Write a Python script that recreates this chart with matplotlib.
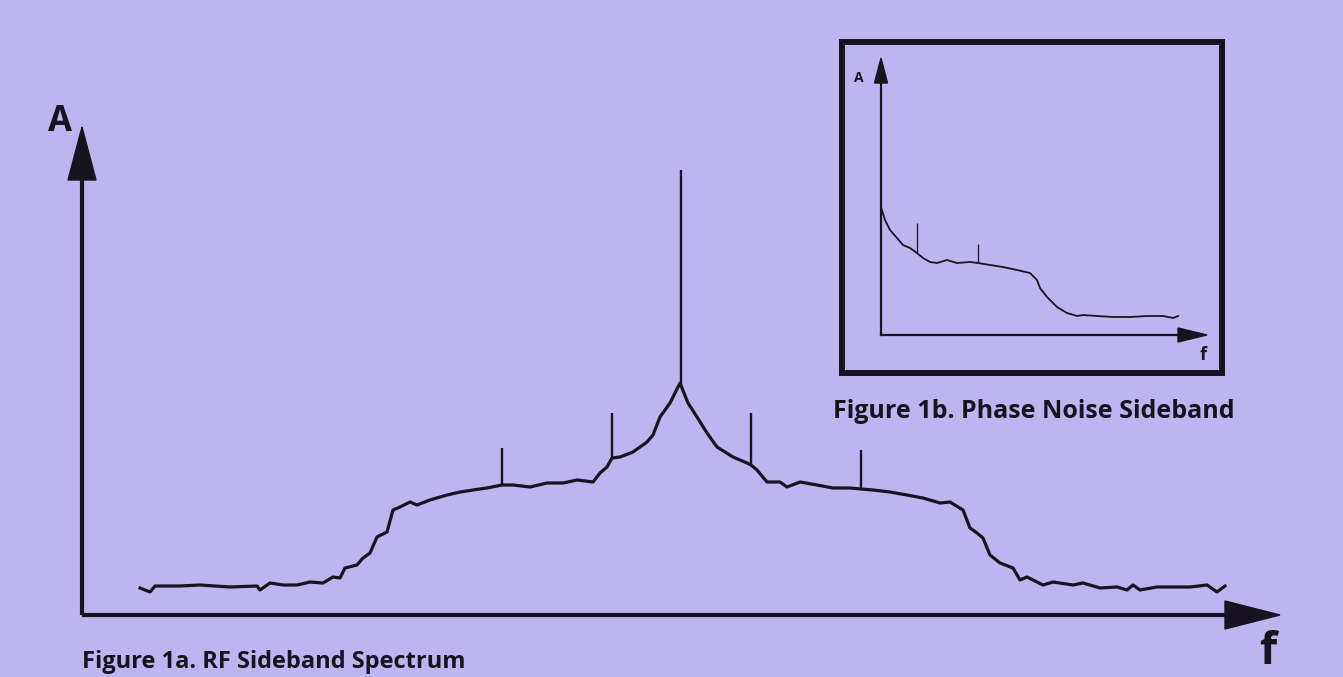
import matplotlib
matplotlib.use("Agg")
import matplotlib.pyplot as plt
import numpy as np

rf_f = [58, 68, 73, 98, 118, 148, 175, 178, 188, 201, 215, 228, 241, 251, 258,
        263, 275, 281, 288, 295, 305, 311, 318, 328, 335, 348, 365, 378, 391,
        405, 420, 431, 448, 465, 481, 495, 511, 518, 525, 530, 538, 551, 565,
        571, 578, 588, 598, 606, 615, 625, 635, 651, 665, 669, 675, 685, 698,
        705, 718, 735, 751, 768, 779, 791, 808, 825, 841, 858, 868, 881, 888,
        895, 901, 908, 918, 931, 938, 945, 961, 971, 991, 1001, 1018, 1035,
        1045, 1051, 1058, 1075, 1091, 1108, 1125, 1135, 1143]
rf_A = [27, 23, 29, 29, 30, 28, 29, 25, 32, 30, 30, 33, 32, 38, 37,
        47, 50, 57, 62, 78, 83, 105, 108, 113, 110, 115, 120, 123, 125,
        127, 130, 130, 128, 132, 132, 135, 133, 142, 148, 157, 158, 163, 173,
        180, 198, 212, 232, 212, 198, 182, 168, 158, 152, 150, 145, 133, 133,
        128, 133, 130, 127, 127, 126, 125, 123, 120, 117, 112, 113, 105, 87,
        82, 77, 60, 52, 47, 35, 38, 30, 33, 30, 32, 27, 28,
        25, 30, 25, 28, 28, 28, 30, 23, 29]
rf_spike_f = [420, 530, 599, 669, 779]
rf_spike_top = [167, 202, 445, 202, 165]

# figure 1b: phase noise sideband
pn_f = [0, 4, 9, 16, 22, 29, 36, 42, 49, 56, 66, 76, 89, 97, 109, 122, 136,
        149, 156, 159, 166, 176, 186, 196, 202, 216, 232, 249, 266, 282, 292, 297]
pn_A = [128, 115, 105, 97, 90, 87, 82, 77, 73, 72, 75, 72, 73, 72, 70, 68, 65,
        62, 55, 47, 38, 28, 22, 19, 20, 19, 18, 18, 19, 19, 17, 19]
pn_spike_f = [36, 97]
pn_spike_top = [112, 91]

W, H = 1343, 677
bg = "#BDB5EF"
ink = "#17131f"
plt.rcParams["font.family"] = ["Open Sans", "DejaVu Sans"]


def px_axes(fig, x0, y0, x1, y1):
    # axes whose data units are pixels, origin at (x0, y0) in image coords
    ax = fig.add_axes([x0 / W, 1 - y0 / H, (x1 - x0) / W, (y0 - y1) / H])
    ax.set_xlim(0, x1 - x0)
    ax.set_ylim(0, y0 - y1)
    ax.set_axis_off()
    return ax


fig = plt.figure(figsize=(W / 100, H / 100), dpi=100, facecolor=bg)

# ---- main chart
ax = px_axes(fig, 82, 615, 1280, 127)
xmax, ymax = 1198, 488
ax.plot([0, xmax - 50], [0, 0], color=ink, lw=3, solid_capstyle="butt", clip_on=False)
ax.plot([0, 0], [0, ymax - 45], color=ink, lw=3, solid_capstyle="butt", clip_on=False)
ax.arrow(xmax - 56, 0, 1, 0, head_width=28, head_length=55, width=0.1,
         length_includes_head=False, color=ink, clip_on=False)
ax.arrow(0, ymax - 54, 0, 1, head_width=28, head_length=53, width=0.1,
         length_includes_head=False, color=ink, clip_on=False)
ax.plot(rf_f, rf_A, color=ink, lw=2.3, solid_joinstyle="round")
base = np.interp(rf_spike_f, rf_f, rf_A)
ax.vlines(rf_spike_f, base, rf_spike_top, color=ink, lw=1.7)
ax.text(-22, ymax + 5, "A", fontsize=25, fontweight="bold", color=ink,
        ha="center", va="center")
ax.text(xmax - 12, -38, "f", fontsize=32, fontweight="bold", color=ink,
        ha="center", va="center")

# ---- inset box
box = fig.add_axes([842 / W, 1 - 373 / H, (1222 - 842) / W, (373 - 42) / H])
box.set_facecolor("none")
box.set_xticks([])
box.set_yticks([])
for s in box.spines.values():
    s.set_linewidth(4.3)
    s.set_color(ink)

ax2 = px_axes(fig, 881, 335, 1207, 58)
x2, y2 = 326, 277
ax2.plot([0, x2 - 25], [0, 0], color=ink, lw=1.6, clip_on=False)
ax2.plot([0, 0], [0, y2 - 22], color=ink, lw=1.6, clip_on=False)
ax2.arrow(x2 - 30, 0, 1, 0, head_width=14, head_length=29, width=0.1,
          color=ink, clip_on=False)
ax2.arrow(0, y2 - 26, 0, 1, head_width=13, head_length=25, width=0.1,
          color=ink, clip_on=False)
ax2.plot(pn_f, pn_A, color=ink, lw=1.3, solid_joinstyle="round")
base2 = np.interp(pn_spike_f, pn_f, pn_A)
ax2.vlines(pn_spike_f, base2, pn_spike_top, color=ink, lw=0.9)
ax2.text(-22, y2 - 20, "A", fontsize=10, fontweight="bold", color=ink,
         ha="center", va="center")
ax2.text(x2 - 4, -20, "f", fontsize=13, fontweight="bold", color=ink,
         ha="center", va="center")

# ---- captions
fig.text(82 / W, 1 - 668 / H, "Figure 1a. RF Sideband Spectrum", fontsize=17,
         fontweight="bold", color=ink, ha="left", va="baseline")
fig.text(833 / W, 1 - 418 / H, "Figure 1b. Phase Noise Sideband", fontsize=18,
         fontweight="bold", color=ink, ha="left", va="baseline")

fig.savefig("out.png", dpi=100, facecolor=bg)
